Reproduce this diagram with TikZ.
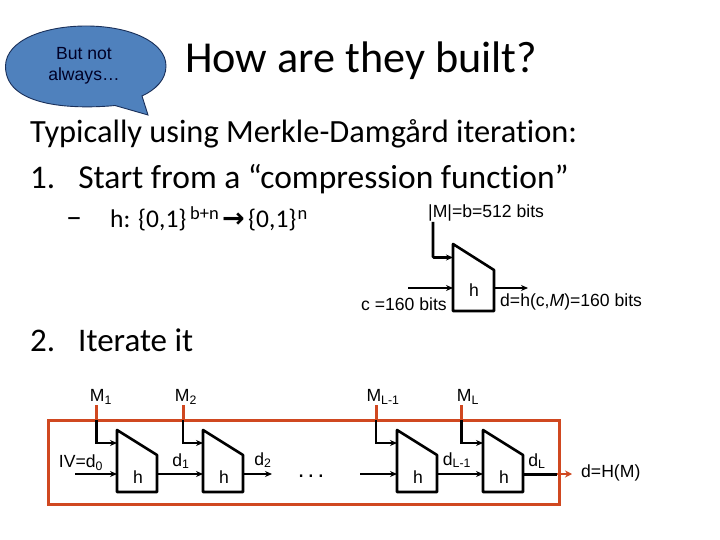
\documentclass[tikz,border=0pt]{standalone}
\usepackage{fontspec}
\setmainfont{Carlito}[Ligatures={NoCommon,TeX}]
\newfontfamily\arialf{Liberation Sans}
\usetikzlibrary{arrows.meta}
\definecolor{bubblefill}{RGB}{79,129,189}
\definecolor{bubbleline}{RGB}{26,48,90}
\definecolor{redbox}{RGB}{208,72,32}
\tikzset{
  x=1pt,y=-1pt,
  ttl/.style={font=\fontsize{44.2}{50}\selectfont,anchor=base west,inner sep=0,text=black},
  body/.style={font=\fontsize{33}{38}\selectfont,anchor=base west,inner sep=0},
  sub/.style={font=\fontsize{25.5}{32}\selectfont,anchor=base west,inner sep=0},
  lab/.style={font=\arialf\fontsize{17.6}{21}\selectfont,inner sep=0},
  wire/.style={line width=1.7pt,-{Stealth[length=7pt,width=6pt]}},
  thick wire/.style={line width=2.8pt,-{Stealth[length=7pt,width=6pt]}},
  blockshape/.style={line width=2.6pt,line join=round},
  redline/.style={draw=redbox,line width=3pt},
}
\newcommand{\hblock}[2]{%
  \coordinate (#1a) at (#2,430);
  \coordinate (#1b) at ({#2+40},455);
  \coordinate (#1c) at ({#2+40},492);
  \coordinate (#1d) at (#2,492);
  \coordinate (#1in) at (#2,474);
  \coordinate (#1top) at (#2,443);
  \coordinate (#1out) at ({#2+40},474);
  \draw[blockshape] (#1a) -- (#1b) -- (#1c) -- (#1d) -- cycle;
  \node[lab] (#1h) at ({#2+21},477) {h};
}
\begin{document}
\begin{tikzpicture}
\useasboundingbox (0,0) rectangle (720,540);
\fill[white] (0,0) rectangle (720,540);
% bubble
\coordinate (tailA) at (142,96);
\coordinate (tailTip) at (148,115);
\coordinate (tailB) at (115,105.5);
\draw[fill=bubblefill,draw=bubbleline,line width=0.9pt]
  (tailB) .. controls (90,108) and (5,112) .. (5.5,66)
  .. controls (6,40) and (45,26) .. (86,26)
  .. controls (130,26) and (166,42) .. (166,66)
  .. controls (166,80) and (155,90) .. (tailA) -- (tailTip) -- cycle;
\node[font=\arialf\fontsize{17.6}{21}\selectfont,align=center,inner sep=0,text=black!85!blue] (bubbletext) at (84,65.5) {But not\\always…};
% headings
\node[ttl] (title) at (185,72.5) {How are they built?};
\node[body,font=\fontsize{32.4}{38}\selectfont] (l1) at (30,143) {Typically using Merkle-Damgård iteration:};
\node[body] (l2) at (30,189) {1.\hspace{23pt}\fontsize{33.5}{38}\selectfont Start from a “compression function”};
\node[sub] (l3) at (66,228) {\makebox[44pt][l]{\fontsize{32}{32}\selectfont –}\makebox[28pt][l]{h:}\makebox[52pt][l]{\{0,1\}}\raisebox{9pt}{\makebox[32pt][l]{\fontsize{18.5}{20}\selectfont b+n}}\makebox[26pt][l]{\fontspec{DejaVu Sans}\bfseries\fontsize{27}{30}\selectfont →}\makebox[49.5pt][l]{\{0,1\}}\raisebox{9pt}{\fontsize{18.5}{20}\selectfont n}};
\node[body] (l4) at (30,351) {2.\hspace{23pt}Iterate it};
% top block
\coordinate (ta) at (453,244);
\coordinate (tb) at (494,270);
\coordinate (tc) at (494,311);
\coordinate (td) at (453,311);
\draw[blockshape] (ta) -- (tb) -- (tc) -- (td) -- cycle;
\node[lab] (th) at (474,290) {h};
\node[lab,anchor=west] (tm) at (428,213) {|M|=b=512 bits};
\node[lab,anchor=west] (tcl) at (361,304) {c =160 bits};
\node[lab,anchor=west] (tdl) at (500,302) {d=h(c,\textit{M})=160 bits};
\coordinate (tmw) at (433,222);
\coordinate (tmin) at (453,257.5);
\coordinate (tcw) at (408,288);
\coordinate (tcin) at (453,288);
\coordinate (tout) at (494,288);
\coordinate (toute) at (528,288);
\draw[thick wire,rounded corners=1pt] (tmw) |- (tmin);
\draw[wire] (tcw) -- (tcin);
\draw[wire] (tout) -- (toute);
% chain
\hblock{A}{117}
\hblock{B}{203}
\hblock{C}{397}
\hblock{D}{483}
\coordinate (rtl) at (48,420);
\coordinate (rbr) at (559,504);
\draw[redline] (rtl) rectangle (rbr);
% message wires
\foreach \n/\x in {A/96.5,B/183,C/376,D/461.5}{
  \coordinate (\n m) at (\x,405);
  \coordinate (\n r) at (\x,420);
  \draw[redline] (\n m) -- (\n r);
  \draw[thick wire] (\n r) |- (\n top);
}
\node[lab] (m1) at (101,397) {M\textsubscript{1}};
\node[lab] (m2) at (186,397) {M\textsubscript{2}};
\node[lab] (m3) at (383,397) {M\textsubscript{L-1}};
\node[lab] (m4) at (468,397) {M\textsubscript{L}};
\coordinate (Aiv) at (75,474);
\coordinate (Cfree) at (360,474);
\coordinate (Bend) at (272,474);
\draw[wire] (Aiv) -- (Ain);
\draw[wire] (Aout) -- (Bin);
\draw[wire] (Bout) -- (Bend);
\draw[wire] (Cfree) -- (Cin);
\draw[wire] (Cout) -- (Din);
\node[lab] (iv) at (81,463) {IV=d\textsubscript{0}};
\node[lab] (d1) at (181,461) {d\textsubscript{1}};
\node[lab] (d2) at (263,460) {d\textsubscript{2}};
\node[lab] (dl1) at (457,460) {d\textsubscript{L-1}};
\node[lab] (dl) at (537,461) {d\textsubscript{L}};
\node[font=\arialf\fontsize{24}{28}\selectfont,inner sep=0,anchor=base] (dots) at (311,477) {.\hspace{3.2pt}.\hspace{3.2pt}.};
\coordinate (Dred) at (557,474);
\coordinate (Dend) at (572,474);
\draw[line width=3pt] (Dout) -- (Dred);
\draw[draw=redbox,line width=2pt,-{Stealth[length=7pt,width=7pt]}] (Dred) -- (Dend);
\node[lab,anchor=west] (res) at (581,473) {d=H(M)};
\end{tikzpicture}
\end{document}
